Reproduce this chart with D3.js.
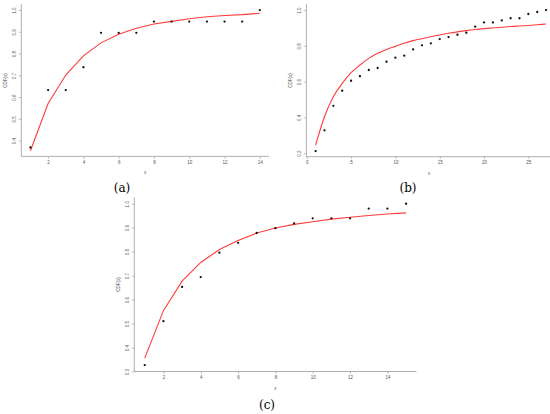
<!DOCTYPE html>
<html>
<head>
<meta charset="utf-8">
<script src="https://cdn.jsdelivr.net/npm/d3@7"></script>
<style>
  body { margin: 0; background: #fff; }
  svg { display: block; }
</style>
</head>
<body>
<svg width="550" height="414"></svg>
<script>
// panel (a)
const xA = [1,2,3,4,5,6,7,8,9,10,11,12,13,14];
const cdfA = [0.368,0.632,0.632,0.737,0.895,0.895,0.895,0.947,0.947,0.947,0.947,0.947,0.947,1.0];
const fitA = [0.353,0.570,0.701,0.789,0.849,0.889,0.916,0.936,0.948,0.960,0.969,0.975,0.979,0.985];
const xTicksA = [2,4,6,8,10,12,14];
const yTicksA = [0.4,0.5,0.6,0.7,0.8,0.9,1.0];

// panel (b)
const xB = [1,2,3,4,5,6,7,8,9,10,11,12,13,14,15,16,17,18,19,20,21,22,23,24,25,26,27];
const cdfB = [0.212,0.328,0.465,0.549,0.605,0.630,0.665,0.676,0.711,0.734,0.745,0.780,0.803,0.814,0.838,0.849,0.862,0.873,0.907,0.931,0.931,0.942,0.954,0.954,0.978,0.989,1.0];
const fitB = [0.246,0.404,0.516,0.590,0.650,0.693,0.730,0.758,0.780,0.797,0.814,0.829,0.840,0.851,0.861,0.870,0.878,0.885,0.891,0.896,0.900,0.904,0.908,0.911,0.914,0.918,0.922];
const xTicksB = [0,5,10,15,20,25];
const yTicksB = [0.2,0.4,0.6,0.8,1.0];

// panel (c)
const xC = [1,2,3,4,5,6,7,8,9,10,11,12,13,14,15];
const cdfC = [0.327,0.510,0.653,0.694,0.796,0.837,0.878,0.898,0.918,0.939,0.939,0.939,0.980,0.980,1.0];
const fitC = [0.356,0.554,0.677,0.755,0.809,0.847,0.878,0.899,0.914,0.925,0.936,0.944,0.951,0.957,0.962];
const xTicksC = [2,4,6,8,10,12,14];
const yTicksC = [0.3,0.4,0.5,0.6,0.7,0.8,0.9,1.0];

const captions = ["(a)", "(b)", "(c)"];

const svg = d3.select('svg');

// R style padding of 4% on each side
function pad(lo, hi) {
  const p = (hi - lo) * 0.04;
  return [lo - p, hi + p];
}

function panel(xs, cdf, fit, xTicks, yTicks, box, caption, smooth) {
  const x = d3.scaleLinear()
    .domain(pad(d3.min(xs), d3.max(xs)))
    .range([box.left, box.right]);
  const y = d3.scaleLinear()
    .domain(pad(d3.min(cdf.concat(fit)), d3.max(cdf.concat(fit))))
    .range([box.bottom, box.top]);

  const g = svg.append('g');

  // X axis
  const gx = g.append('g')
    .attr('transform', `translate(0, ${box.bottom})`)
    .call(d3.axisBottom(x).tickValues(xTicks).tickSize(2.5).tickPadding(2).tickFormat(d3.format('d')));
  // Y axis
  const gy = g.append('g')
    .attr('transform', `translate(${box.left}, 0)`)
    .call(d3.axisLeft(y).tickValues(yTicks).tickSize(2.5).tickPadding(2).tickFormat(d3.format('.1f')));

  [gx, gy].forEach(a => {
    a.select('.domain').attr('stroke', '#9a9a9a').attr('stroke-width', 0.8)
      .attr('d', a === gx ? `M${box.left},0H${box.right}` : `M0,${box.top}V${box.bottom}`);
    a.selectAll('.tick line').attr('stroke', '#9a9a9a').attr('stroke-width', 0.6);
    a.selectAll('.tick text').attr('fill', '#555').style('font-size', '4.5px')
      .style('font-family', 'Liberation Sans, Arial, sans-serif');
  });
  gy.selectAll('.tick text')
    .attr('transform', 'rotate(-90)')
    .attr('x', 0).attr('y', -7)
    .attr('dy', '0.35em')
    .attr('text-anchor', 'middle');

  // fitted line
  const line = d3.line()
    .x((d, i) => x(xs[i]))
    .y(d => y(d))
    .curve(smooth ? d3.curveMonotoneX : d3.curveLinear);
  g.append('path')
    .datum(fit)
    .attr('d', line)
    .attr('fill', 'none')
    .attr('stroke', '#ff3b3b')
    .attr('stroke-width', 1.1);

  // empirical points
  g.append('g')
    .selectAll('circle')
    .data(cdf)
    .join('circle')
      .attr('cx', (d, i) => x(xs[i]))
      .attr('cy', d => y(d))
      .attr('r', 1.15)
      .attr('fill', '#111');

  // axis titles
  g.append('text')
    .attr('x', (box.left + Math.min(box.right, 550)) / 2 + box.xlabShift)
    .attr('y', box.bottom + 18)
    .attr('text-anchor', 'middle')
    .style('font-size', '4.5px')
    .style('font-family', 'Liberation Sans, Arial, sans-serif')
    .attr('fill', '#555')
    .text('x');
  g.append('text')
    .attr('transform', `translate(${box.left - 16}, ${(box.top + box.bottom) / 2}) rotate(-90)`)
    .attr('text-anchor', 'middle')
    .attr('dy', '0.35em')
    .style('font-size', '4.5px')
    .style('font-family', 'Liberation Sans, Arial, sans-serif')
    .attr('fill', '#555')
    .text('CDF(x)');

  svg.append('text')
    .attr('x', box.cap[0])
    .attr('y', box.cap[1])
    .attr('text-anchor', 'middle')
    .style('font-size', '12px')
    .style('font-family', 'DejaVu Serif, Liberation Serif, serif')
    .attr('fill', '#000')
    .text(caption);
}

panel(xA, cdfA, fitA, xTicksA, yTicksA,
  {left: 21.3, right: 269, top: 4.4, bottom: 156.4, xlabShift: 0, cap: [122, 192]}, captions[0], false);
panel(xB, cdfB, fitB, xTicksB, yTicksB,
  {left: 306.4, right: 555.3, top: 4.4, bottom: 156.7, xlabShift: 1, cap: [408, 192]}, captions[1], true);
panel(xC, cdfC, fitC, xTicksC, yTicksC,
  {left: 134.3, right: 416.5, top: 197.3, bottom: 371.5, xlabShift: 0, cap: [267, 409]}, captions[2], false);
</script>
</body>
</html>
